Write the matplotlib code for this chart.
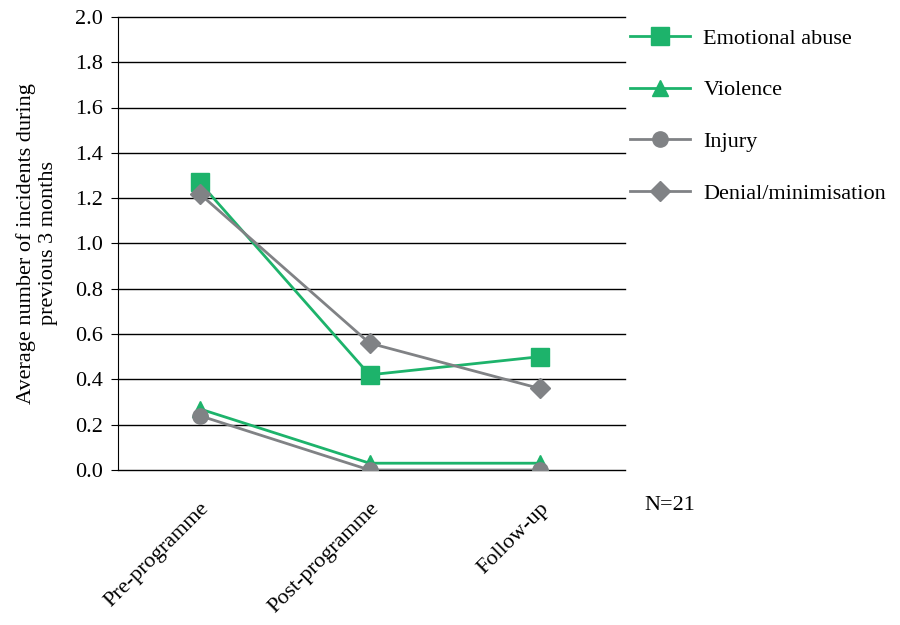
import matplotlib.pyplot as plt

# Programme stages and average incidents over previous 3 months
stages = ["Pre-programme", "Post-programme", "Follow-up"]
emotional_abuse = [1.27, 0.42, 0.50]
violence = [0.27, 0.03, 0.03]
injury = [0.24, 0.0, 0.0]
denial = [1.22, 0.56, 0.36]

green = "#1db36b"
grey = "#808285"

plt.rcParams["font.family"] = ["Liberation Serif", "DejaVu Serif"]

fig = plt.figure(figsize=(9, 6.25), dpi=100)
ax = fig.add_axes([0.131, 0.248, 0.563, 0.725])

x = range(len(stages))
ax.plot(x, emotional_abuse, color=green, lw=2, marker="s", ms=13, label="Emotional abuse", zorder=3)
ax.plot(x, violence, color=green, lw=2, marker="^", ms=12, label="Violence", zorder=3)
ax.plot(x, injury, color=grey, lw=2, marker="o", ms=11, label="Injury", zorder=3)
ax.plot(x, denial, color=grey, lw=2, marker="D", ms=10, label="Denial/minimisation", zorder=3)

ax.set_xlim(-0.48, 2.5)
ax.set_ylim(0, 2.0)
yticks = [i / 10 for i in range(0, 21, 2)]
ax.set_yticks(yticks)
ax.set_yticklabels([f"{v:.1f}" for v in yticks], fontsize=16)
for v in yticks:
    ax.axhline(v, color="black", lw=1, clip_on=False, zorder=1)
ax.tick_params(axis="y", length=5, color="black", pad=6)

ax.set_xticks(list(x))
ax.set_xticklabels(stages, rotation=45, ha="right", rotation_mode="anchor", fontsize=16)
ax.tick_params(axis="x", length=0, pad=21)

for side in ["top", "right", "bottom"]:
    ax.spines[side].set_visible(False)
ax.spines["left"].set_color("black")

ax.set_ylabel("Average number of incidents during\nprevious 3 months", fontsize=16, labelpad=12)

fig.legend(loc="upper left", bbox_to_anchor=(0.7, 0.955), frameon=False, fontsize=16,
           borderpad=0, borderaxespad=0, handlelength=2.7, labelspacing=1.4,
           handletextpad=0.6)

fig.text(0.716, 0.192, "N=21", fontsize=16, va="center")

fig.savefig("out.png", dpi=100)
